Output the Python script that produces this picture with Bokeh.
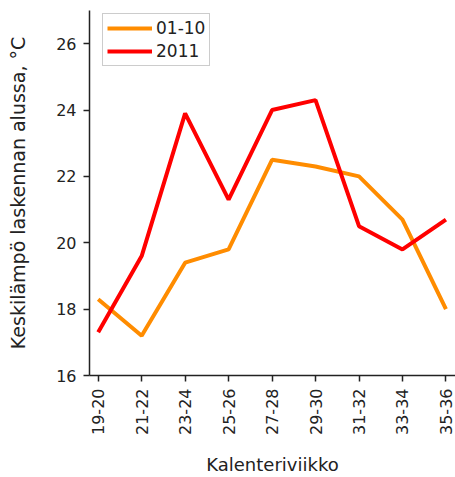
from bokeh.plotting import figure
from bokeh.models import Range1d, FixedTicker, Legend, LegendItem
from bokeh.embed import file_html
from bokeh.resources import INLINE

weeks = ["19-20", "21-22", "23-24", "25-26", "27-28", "29-30", "31-32", "33-34", "35-36"]
avg_01_10 = [18.3, 17.2, 19.4, 19.8, 22.5, 22.3, 22.0, 20.7, 18.0]
y2011 = [17.3, 19.6, 23.9, 21.3, 24.0, 24.3, 20.5, 19.8, 20.7]
y_ticks = [16, 18, 20, 22, 24, 26]

x = list(range(len(weeks)))
FONT = "DejaVu Sans"

p = figure(width=455, height=477, output_backend="svg", toolbar_location=None,
           x_range=Range1d(-0.2, 8.22), y_range=Range1d(16, 27),
           min_border_left=89, min_border_right=0, min_border_top=10, min_border_bottom=101)
p.outline_line_color = None
p.xgrid.visible = False
p.ygrid.visible = False

r1 = p.line(x, avg_01_10, line_color="#FF8C00", line_width=4)
r2 = p.line(x, y2011, line_color="#FF0000", line_width=4)

p.xaxis.ticker = FixedTicker(ticks=x)
p.xaxis.major_label_overrides = {i: w for i, w in enumerate(weeks)}
p.xaxis.major_label_orientation = 1.5708
p.yaxis.ticker = FixedTicker(ticks=y_ticks)
for ax in (p.xaxis, p.yaxis):
    ax.axis_line_color = "#222222"
    ax.axis_line_width = 1.5
    ax.major_tick_line_color = "#222222"
    ax.major_tick_line_width = 1.5
    ax.major_tick_out = 6
    ax.major_tick_in = 0
    ax.minor_tick_line_color = None
    ax.major_label_text_font = FONT
    ax.major_label_text_font_size = "16px"
    ax.major_label_text_color = "#222222"
    ax.major_label_standoff = 7
    ax.axis_label_text_font = FONT
    ax.axis_label_text_font_size = "18px"
    ax.axis_label_text_font_style = "normal"
    ax.axis_label_text_color = "#222222"
p.xaxis.axis_label = "Kalenteriviikko"
p.yaxis.axis_label = "Keskilämpö laskennan alussa, °C"
p.yaxis.axis_label_text_font_size = "19px"
p.yaxis.axis_label_standoff = 24
p.xaxis.axis_label_standoff = 16

legend = Legend(items=[LegendItem(label="01-10", renderers=[r1]),
                       LegendItem(label="2011", renderers=[r2])])
legend.label_text_font = FONT
legend.label_text_font_size = "17px"
legend.label_text_color = "#222222"
legend.border_line_color = "#999999"
legend.glyph_width = 45
legend.glyph_height = 20
legend.label_standoff = 4
legend.label_height = 20
legend.padding = 4
legend.spacing = 3
legend.margin = 0
legend.location = (13, 309)
p.add_layout(legend)

open("out.html", "w").write(file_html(p, INLINE))
